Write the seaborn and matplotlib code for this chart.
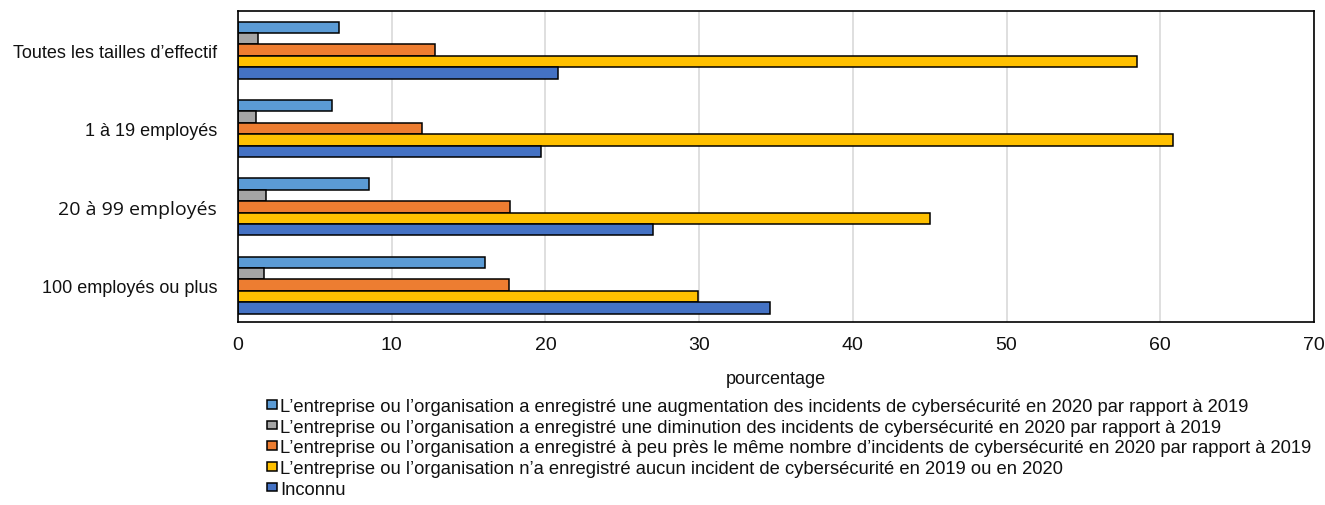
#!/usr/bin/env python3

import numpy as np
import pandas as pd
import seaborn as sns
import matplotlib as mpl
import matplotlib.pyplot as plt

sns.set_theme(style="white")
mpl.rcParams["font.family"] = ["Liberation Sans", "DejaVu Sans"]

categories = [
    "Toutes les tailles d\u2019effectif",
    "1 à 19 employés",
    "20 à 99 employés",
    "100 employés ou plus",
]
series = [
    "L\u2019entreprise ou l\u2019organisation a enregistré une augmentation des incidents de cybersécurité en 2020 par rapport à 2019",
    "L\u2019entreprise ou l\u2019organisation a enregistré une diminution des incidents de cybersécurité en 2020 par rapport à 2019",
    "L\u2019entreprise ou l\u2019organisation a enregistré à peu près le même nombre d\u2019incidents de cybersécurité en 2020 par rapport à 2019",
    "L\u2019entreprise ou l\u2019organisation n\u2019a enregistré aucun incident de cybersécurité en 2019 ou en 2020",
    "Inconnu",
]
augmentation = [6.6, 6.1, 8.5, 16.1]
diminution = [1.3, 1.2, 1.8, 1.7]
meme_nombre = [12.8, 12.0, 17.7, 17.6]
aucun = [58.5, 60.8, 45.0, 29.9]
inconnu = [20.8, 19.7, 27.0, 34.6]

colors = ["#5B9BD5", "#A5A5A5", "#ED7D31", "#FFC000", "#4472C4"]

values = [augmentation, diminution, meme_nombre, aucun, inconnu]
df = pd.DataFrame(
    [
        {"taille": c, "serie": s, "pct": v}
        for s, vals in zip(series, values)
        for c, v in zip(categories, vals)
    ]
)

fig = plt.figure(figsize=(13.25, 5.06), dpi=100)
ax = fig.add_axes([238 / 1325, 1 - 323 / 506, (1314 - 238) / 1325, (323 - 12) / 506])

sns.barplot(
    data=df,
    x="pct",
    y="taille",
    hue="serie",
    order=categories,
    hue_order=series,
    palette=colors,
    saturation=1,
    orient="h",
    width=0.73,
    edgecolor="black",
    linewidth=1.1,
    ax=ax,
)

ax.set_xlim(0, 70)
ax.set_ylim(3.47, -0.5)
ax.set_xticks(np.arange(0, 71, 10))
ax.xaxis.grid(True, color="#d9d9d9", linewidth=1.2)
ax.set_axisbelow(True)
for sp in ax.spines.values():
    sp.set_color("black")
    sp.set_linewidth(1.2)
ax.tick_params(axis="both", length=0, labelsize=13, colors="#111111")
ax.tick_params(axis="x", labelsize=14, pad=10)
ax.tick_params(axis="y", pad=15)
ax.set_xlabel("pourcentage", fontsize=13, labelpad=12, color="#111111")
ax.set_ylabel("")
for lbl in ax.get_yticklabels():
    if lbl.get_text().startswith("20"):
        lbl.set_fontfamily(["Open Sans", "DejaVu Sans"])
        lbl.set_fontsize(14)

handles, labels = ax.get_legend_handles_labels()
ax.legend_.remove()
leg = fig.legend(
    handles,
    labels,
    loc="upper left",
    bbox_to_anchor=(267 / 1325, 1 - 399 / 506),
    frameon=False,
    fontsize=13.2,
    handlelength=0.55,
    handleheight=0.35,
    handletextpad=0.15,
    labelspacing=0.2,
    borderaxespad=0,
    borderpad=0,
)
for t in leg.get_texts():
    t.set_color("#111111")

fig.savefig("out.png", dpi=100)
